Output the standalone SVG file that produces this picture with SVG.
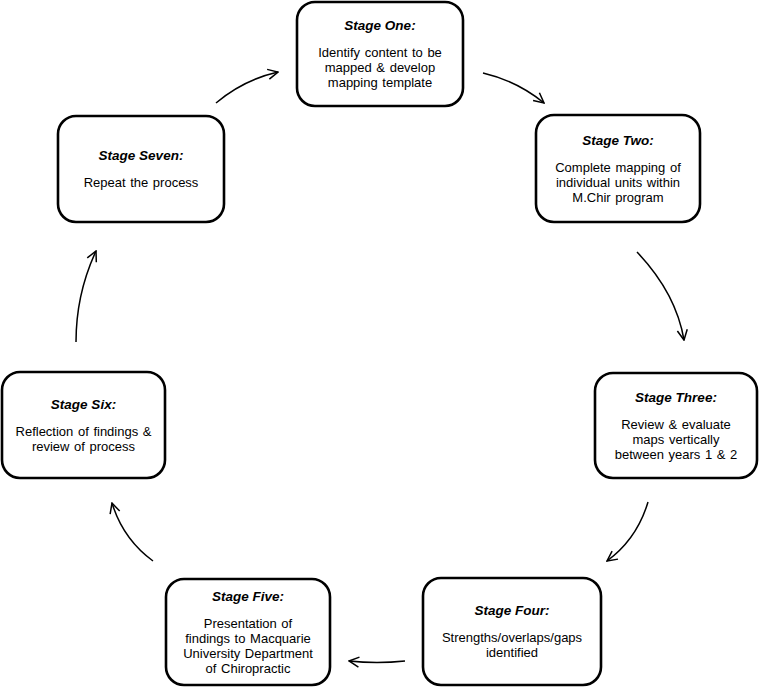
<svg xmlns="http://www.w3.org/2000/svg" width="760" height="687" viewBox="0 0 760 687">
<defs>
<style>
.box{fill:#fff;stroke:#000;stroke-width:2.6}
.t{font-family:"Liberation Sans",Arial,sans-serif;font-size:13px;fill:#000;text-anchor:middle;word-spacing:1px}
.h{font-weight:bold;font-style:italic;font-size:13.5px;word-spacing:0}
.c{fill:none;stroke:#000;stroke-width:1.5}
</style>
<marker id="ah" viewBox="0 0 12 12" refX="11" refY="6" markerWidth="12" markerHeight="12" markerUnits="userSpaceOnUse" orient="auto">
<path d="M1,1 L11,6 L1,11" fill="none" stroke="#000" stroke-width="1.5"/>
</marker>
</defs>
<rect width="760" height="687" fill="#fff"/>
<g id="connectors">
<path class="c" marker-end="url(#ah)" d="M216,103 Q243,80 278,72"/>
<path class="c" marker-end="url(#ah)" d="M483,73 Q517,81 544,103"/>
<path class="c" marker-end="url(#ah)" d="M637,252 Q676,293 684,340"/>
<path class="c" marker-end="url(#ah)" d="M648,502 Q637,539 607,561"/>
<path class="c" marker-end="url(#ah)" d="M405,661 Q377,664 349,661"/>
<path class="c" marker-end="url(#ah)" d="M153,561 Q123,539 112,503"/>
<path class="c" marker-end="url(#ah)" d="M76,342 Q76,294 96,251"/>
</g>
<g id="stage1">
<rect class="box" x="297" y="2" width="166" height="104" rx="18"/>
<text class="t"><tspan class="h" x="380" y="30">Stage One:</tspan><tspan x="380" y="57">Identify content to be</tspan><tspan x="380" y="72">mapped &amp; develop</tspan><tspan x="380" y="87">mapping template</tspan></text>
</g>
<g id="stage2">
<rect class="box" x="536" y="115" width="164" height="107" rx="18"/>
<text class="t"><tspan class="h" x="618" y="144.5">Stage Two:</tspan><tspan x="618" y="171.5">Complete mapping of</tspan><tspan x="618" y="186.5">individual units within</tspan><tspan x="618" y="201.5">M.Chir program</tspan></text>
</g>
<g id="stage3">
<rect class="box" x="595" y="373" width="162" height="105" rx="18"/>
<text class="t"><tspan class="h" x="676" y="401.5">Stage Three:</tspan><tspan x="676" y="428.5">Review &amp; evaluate</tspan><tspan x="676" y="443.5">maps vertically</tspan><tspan x="676" y="458.5">between years 1 &amp; 2</tspan></text>
</g>
<g id="stage4">
<rect class="box" x="423" y="578" width="178" height="107" rx="18"/>
<text class="t"><tspan class="h" x="512" y="615">Stage Four:</tspan><tspan x="512" y="642">Strengths/overlaps/gaps</tspan><tspan x="512" y="657">identified</tspan></text>
</g>
<g id="stage5">
<rect class="box" x="166" y="579" width="164" height="106" rx="18"/>
<text class="t"><tspan class="h" x="248" y="600.5">Stage Five:</tspan><tspan x="248" y="627.5">Presentation of</tspan><tspan x="248" y="642.5">findings to Macquarie</tspan><tspan x="248" y="657.5">University Department</tspan><tspan x="248" y="672.5">of Chiropractic</tspan></text>
</g>
<g id="stage6">
<rect class="box" x="2" y="372" width="163" height="106" rx="18"/>
<text class="t"><tspan class="h" x="83.5" y="408.5">Stage Six:</tspan><tspan x="83.5" y="435.5">Reflection of findings &amp;</tspan><tspan x="83.5" y="450.5">review of process</tspan></text>
</g>
<g id="stage7">
<rect class="box" x="58" y="116" width="166" height="106" rx="18"/>
<text class="t"><tspan class="h" x="141" y="160">Stage Seven:</tspan><tspan x="141" y="187">Repeat the process</tspan></text>
</g>
</svg>
